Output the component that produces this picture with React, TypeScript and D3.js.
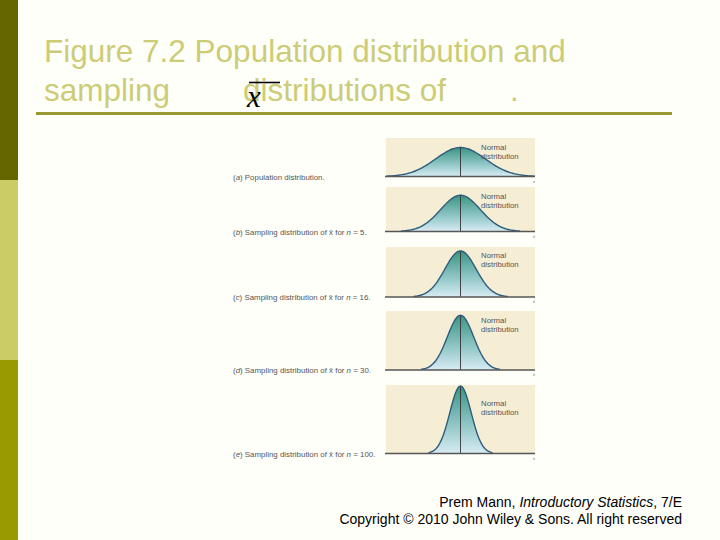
import React from "react";
import * as d3 from "d3";

// ---- data ----
const panelIds = ["a", "b", "c", "d", "e"];
const sampleSizes = [null, 5, 16, 30, 100];
const panelCaptions = [
  "Population distribution.",
  "Sampling distribution of x̄ for ",
  "Sampling distribution of x̄ for ",
  "Sampling distribution of x̄ for ",
  "Sampling distribution of x̄ for ",
];
const curveMeans = [0, 0, 0, 0, 0];
const curveSDs = [1, 0.8, 0.63, 0.53, 0.43];
const axisLabels = ["x", "x̄", "x̄", "x̄", "x̄"];
const curveNote = ["Normal", "distribution"];

const titleLine1 = "Figure 7.2 Population distribution and";
const titleLine2a = "sampling";
const titleLine2b = "distributions of";
const footer1 = ["Prem Mann, ", "Introductory Statistics", ", 7/E"];
const footer2 = "Copyright © 2010 John Wiley & Sons. All right reserved";

// ---- layout (pixels) ----
const panelTops = [138, 187, 247, 311, 385];
const panelAxes = [176.5, 231.5, 297, 370, 453.5];
const noteOffsets = [12, 12, 11, 12, 21];

const W = 720;
const H = 540;
const X0 = 386;
const X1 = 535;

function pdf(x: number, m: number, s: number) {
  return Math.exp(-0.5 * ((x - m) / s) ** 2) / (s * Math.sqrt(2 * Math.PI));
}

export default function App() {
  const x = d3.scaleLinear().domain([-3, 3]).range([X0, X1]);
  const k = d3.scaleLinear().domain([0, 0.3989]).range([0, 29]);

  const panels = panelIds.map((id, i) => {
    const m = curveMeans[i];
    const s = curveSDs[i];
    const xs = d3.range(m - 3 * s, m + 3 * s + 1e-9, (6 * s) / 120);
    const pts = xs.map((v) => [v, pdf(v, m, s)] as [number, number]);
    const axisY = panelAxes[i];
    const area = d3
      .area<[number, number]>()
      .x((d) => x(d[0]))
      .y0(axisY)
      .y1((d) => axisY - k(d[1]))
      .curve(d3.curveBasis);
    const line = d3
      .line<[number, number]>()
      .x((d) => x(d[0]))
      .y((d) => axisY - k(d[1]))
      .curve(d3.curveBasis);
    return { id, i, m, s, pts, axisY, area: area(pts)!, line: line(pts)!, peak: axisY - k(pdf(m, m, s)) };
  });

  return (
    <svg width={W} height={H} style={{ display: "block", position: "absolute", left: 0, top: 0 }}>
      <defs>
        <linearGradient id="fillGrad" x1="0" y1="0" x2="0" y2="1">
          <stop offset="0%" stopColor="#3a9482" />
          <stop offset="55%" stopColor="#8cc4c4" />
          <stop offset="100%" stopColor="#d8ecf3" />
        </linearGradient>
      </defs>
      <rect x={0} y={0} width={W} height={H} fill="#fffffa" />
      {/* left bar */}
      <rect x={0} y={0} width={18} height={180} fill="#666600" />
      <rect x={0} y={180} width={18} height={180} fill="#cccc66" />
      <rect x={0} y={360} width={18} height={180} fill="#999900" />

      {/* title */}
      <g fontFamily="Liberation Sans, Arial, sans-serif" fontSize={31.5} fill="#cccc77">
        <text x={44} y={62}>{titleLine1}</text>
        <text x={44} y={101}>{titleLine2a}</text>
        <text x={243} y={101}>{titleLine2b}</text>
        <text x={510} y={101}>.</text>
      </g>
      <text x={247} y={107} fontFamily="Liberation Serif, Times New Roman, serif" fontStyle="italic" fontSize={31} fill="#000">
        x
      </text>
      <line x1={249} x2={280} y1={82.5} y2={82.5} stroke="#000" strokeWidth={1.6} />
      <line x1={36} x2={672} y1={113.5} y2={113.5} stroke="#999933" strokeWidth={3} />

      {/* panels */}
      {panels.map((p) => (
        <g key={p.id}>
          <rect x={X0} y={panelTops[p.i]} width={X1 - X0} height={p.axisY - panelTops[p.i]} fill="#f5edd4" />
          <path d={p.area} fill="url(#fillGrad)" />
          <path d={p.line} fill="none" stroke="#2f5d7e" strokeWidth={1.4} />
          <line x1={x(p.m)} x2={x(p.m)} y1={p.axisY} y2={p.peak + 0.5} stroke="#333" strokeWidth={0.9} />
          <line x1={X0 - 1} x2={X1} y1={p.axisY} y2={p.axisY} stroke="#555" strokeWidth={1.3} />
          <text x={X1 - 1} y={p.axisY + 6} fontSize={4} fill="#666" textAnchor="middle" fontFamily="Liberation Sans, Arial, sans-serif">
            {axisLabels[p.i]}
          </text>
          <g fontFamily="Liberation Sans, Arial, sans-serif" fontSize={7.8} fill="#555">
            <text x={481} y={panelTops[p.i] + noteOffsets[p.i]}>{curveNote[0]}</text>
            <text x={481} y={panelTops[p.i] + noteOffsets[p.i] + 9}>{curveNote[1]}</text>
          </g>
          <text x={233} y={p.axisY + 3} fontFamily="Liberation Sans, Arial, sans-serif" fontSize={7.9} fill="#555">
            (<tspan fontStyle="italic">{p.id}</tspan>) {panelCaptions[p.i]}
            {sampleSizes[p.i] !== null && (
              <>
                <tspan fontStyle="italic">n</tspan>
                {` = ${sampleSizes[p.i]}.`}
              </>
            )}
          </text>
        </g>
      ))}

      {/* footer */}
      <g fontFamily="Liberation Sans, Arial, sans-serif" fontSize={14} fill="#000" textAnchor="end">
        <text x={682} y={507}>
          {footer1[0]}
          <tspan fontStyle="italic">{footer1[1]}</tspan>
          {footer1[2]}
        </text>
        <text x={682} y={524}>{footer2}</text>
      </g>
    </svg>
  );
}
